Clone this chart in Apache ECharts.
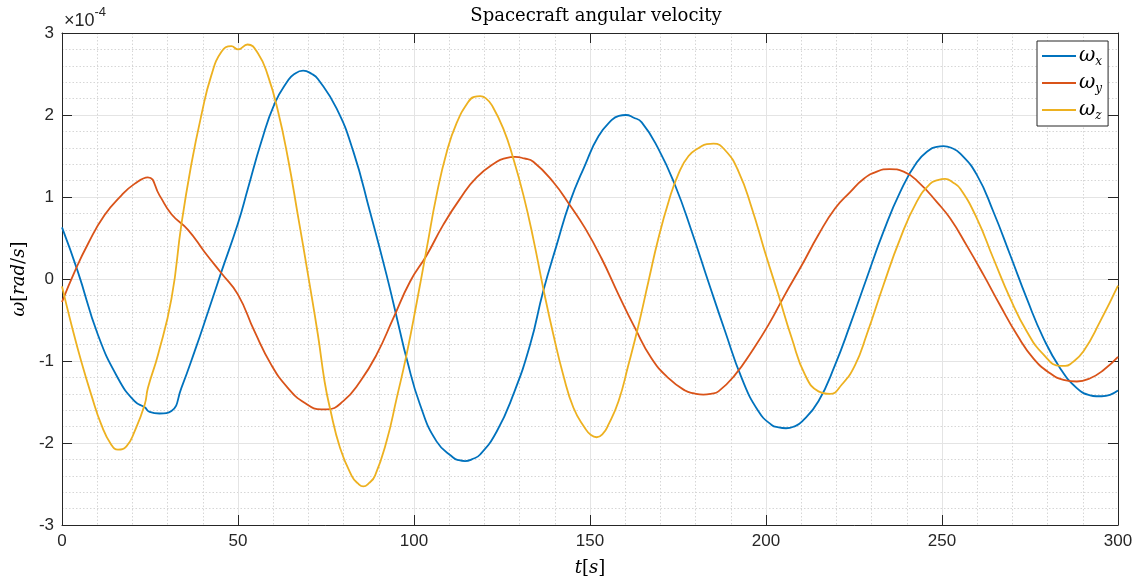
<!DOCTYPE html>
<html>
<head>
<meta charset="utf-8">
<script src="https://cdn.jsdelivr.net/npm/echarts@6/dist/echarts.min.js"></script>
<style>html,body{margin:0;padding:0;background:#fff}#c{width:1139px;height:585px}</style>
</head>
<body>
<div id="c"></div>
<script>
// values in units of 1e-4 rad/s
const tX = [0,4.5,10.2,15.9,20.6,23.5,24.9,27.7,31.1,33.9,37.7,41.5,45.3,50,52.8,56.6,60.4,64.2,66.0,68.5,71.0,72.7,78.0,82.8,87.5,92.2,95.6,97.9,101.7,106.4,111.2,112.8,114.5,116.4,118.8,123.5,128.2,133.0,136.7,140.5,144.3,148.6,152.4,156.2,158.2,160.2,162.3,164.7,169.4,174.2,178.9,183.6,188.4,193.1,197.8,201.6,203.6,205.7,207.9,210.2,214.9,219.6,223.9,228.6,233.4,238.1,242.8,246.6,248.5,250.4,252.6,255.2,259.9,264.6,269.4,274.1,278.8,283.6,288.3,292.1,293.8,295.4,300];
const wX = [0.63,0.09,-0.68,-1.21,-1.49,-1.565,-1.62,-1.64,-1.61,-1.33,-0.88,-0.40,0.09,0.68,1.10,1.67,2.14,2.42,2.50,2.54,2.50,2.44,2.08,1.55,0.82,0.05,-0.56,-0.97,-1.53,-1.98,-2.18,-2.21,-2.22,-2.20,-2.14,-1.86,-1.41,-0.80,-0.15,0.41,0.94,1.39,1.74,1.94,1.99,2.00,1.97,1.91,1.59,1.14,0.58,-0.03,-0.64,-1.21,-1.61,-1.78,-1.81,-1.82,-1.80,-1.74,-1.49,-1.05,-0.56,0.01,0.58,1.06,1.42,1.58,1.61,1.62,1.60,1.53,1.27,0.82,0.29,-0.24,-0.72,-1.09,-1.33,-1.42,-1.43,-1.43,-1.36];

const tY = [0,3.6,7.4,12.1,16.9,20.6,24.4,27.7,31.1,35.8,40.5,45.3,50,54.7,59.5,64.2,68.9,73.7,75.2,79.9,84.7,89.4,94.1,98.9,103.6,108.3,113.1,117.8,123.5,126.1,128.7,131.3,133.9,139.6,144.3,148.6,153.3,158.1,162.8,167.5,172.3,177.0,179.6,182.2,184.3,186.5,191.2,196.0,200.7,205.4,210.2,214.9,219.6,223.9,227.7,231.5,235.1,239.1,243.8,248.5,252.3,257.0,261.8,266.5,271.3,276.0,280.7,284.5,288.3,292.1,295.9,300];
const wY = [-0.28,0.09,0.43,0.78,1.02,1.16,1.24,1.02,0.79,0.60,0.33,0.07,-0.19,-0.64,-1.05,-1.33,-1.51,-1.59,-1.59,-1.49,-1.25,-0.92,-0.48,-0.03,0.29,0.66,0.98,1.24,1.43,1.475,1.49,1.47,1.43,1.18,0.90,0.62,0.25,-0.19,-0.60,-0.97,-1.21,-1.36,-1.395,-1.41,-1.40,-1.37,-1.17,-0.88,-0.56,-0.19,0.17,0.54,0.86,1.06,1.22,1.31,1.34,1.31,1.16,0.94,0.74,0.41,0.05,-0.32,-0.68,-0.97,-1.15,-1.23,-1.25,-1.21,-1.11,-0.95];

const tZ = [0,2.7,5.5,8.3,11.2,14.0,15.9,18.3,20.6,23.5,24.4,27.3,31.1,33.9,36.7,39.6,42.4,45.3,48.1,50,52.7,55.7,58.5,61.4,64.2,67.0,69.9,72.7,74.6,76.1,79.0,82.3,84.0,85.6,87.2,88.9,92.2,95.1,97.9,100.8,103.6,106.4,109.3,112.1,115.4,117.1,118.8,120.5,122.1,125.4,128.2,131.1,133.9,136.7,139.6,142.4,145.3,148.6,150.2,151.9,153.6,155.2,158.1,160.9,163.8,166.6,169.4,172.3,175.1,178.0,181.3,183.2,185.1,188.4,192.2,196.0,199.7,203.5,207.3,211.1,214.9,218.2,221.5,225.3,228.6,233.4,238.1,242.8,246.6,248.8,250.9,253.0,255.2,259.9,264.6,269.4,274.1,278.8,283.6,285.0,286.4,290.2,294.9,300];
const wZ = [-0.09,-0.56,-1.01,-1.41,-1.78,-2.02,-2.08,-2.04,-1.86,-1.53,-1.33,-0.92,-0.24,0.66,1.39,2.0,2.48,2.77,2.84,2.80,2.86,2.75,2.48,2.04,1.47,0.78,0.05,-0.68,-1.25,-1.57,-2.06,-2.40,-2.49,-2.53,-2.49,-2.40,-1.98,-1.45,-0.92,-0.28,0.37,1.02,1.55,1.90,2.16,2.22,2.23,2.20,2.12,1.83,1.47,1.02,0.49,-0.11,-0.68,-1.17,-1.57,-1.82,-1.90,-1.93,-1.89,-1.78,-1.49,-1.05,-0.56,-0.03,0.49,0.94,1.28,1.50,1.61,1.645,1.65,1.57,1.31,0.86,0.33,-0.19,-0.72,-1.17,-1.37,-1.40,-1.29,-1.05,-0.68,-0.07,0.49,0.94,1.16,1.205,1.22,1.18,1.10,0.74,0.25,-0.24,-0.64,-0.92,-1.06,-1.06,-1.04,-0.88,-0.52,-0.08];

const xTicks = [0,50,100,150,200,250,300];
const yTicks = [-3,-2,-1,0,1,2,3];
const seriesNames = ['ωx','ωy','ωz'];
const colors = ['#0072BD','#D95319','#EDB120'];

const zip = (t, v) => t.map((x, i) => [x, v[i]]);
const dark = '#262626';
const serif = 'DejaVu Serif';
const sans = 'Liberation Sans';

const chart = echarts.init(document.getElementById('c'), null, {renderer: 'canvas'});

const baseX = {
  type: 'value', min: xTicks[0], max: xTicks[xTicks.length-1], interval: 50,
  axisLine: {show: true, onZero: false, lineStyle: {color: dark, width: 1}},
  axisTick: {show: true, inside: true, length: 10, lineStyle: {color: dark}}
};
const baseY = {
  type: 'value', min: yTicks[0], max: yTicks[yTicks.length-1], interval: 1,
  axisLine: {show: true, onZero: false, lineStyle: {color: dark, width: 1}},
  axisTick: {show: true, inside: true, length: 10, lineStyle: {color: dark}}
};

chart.setOption({
  animation: false,
  color: colors,
  title: {
    text: 'Spacecraft angular velocity',
    left: 591, top: 2, textAlign: 'center',
    textStyle: {fontFamily: serif, fontWeight: 'normal', fontSize: 18, color: '#000'}
  },
  grid: {left: 62, right: 21, top: 33, bottom: 60, containLabel: false},
  xAxis: [
    Object.assign({}, baseX, {
      position: 'bottom',
      axisLabel: {show: true, fontFamily: sans, fontSize: 17, color: dark, margin: 8},
      splitLine: {show: true, lineStyle: {color: '#e4e4e4', width: 1, type: 'solid'}},
      minorTick: {show: false, splitNumber: 5},
      minorSplitLine: {show: true, lineStyle: {color: '#d6d6d6', width: 1, type: [1.5, 2]}},
      name: '{i|t}{n|[}{i|s}{n|]}',
      nameLocation: 'middle', nameGap: 34,
      nameTextStyle: {
        rich: {
          i: {fontFamily: serif, fontStyle: 'italic', fontSize: 18, color: '#000'},
          n: {fontFamily: serif, fontSize: 18, color: '#000'}
        }
      }
    }),
    Object.assign({}, baseX, {
      position: 'top',
      axisLabel: {show: false},
      splitLine: {show: false}
    })
  ],
  yAxis: [
    Object.assign({}, baseY, {
      position: 'left',
      axisLabel: {show: true, fontFamily: sans, fontSize: 17, color: dark, margin: 8},
      splitLine: {show: true, lineStyle: {color: '#e4e4e4', width: 1, type: 'solid'}},
      minorTick: {show: false, splitNumber: 5},
      minorSplitLine: {show: true, lineStyle: {color: '#d6d6d6', width: 1, type: [1.5, 2]}},
      name: '{i|ω}{n|[}{i|rad}{n|/}{i|s}{n|]}',
      nameLocation: 'middle', nameGap: 28, nameRotate: 90,
      nameTextStyle: {
        rich: {
          i: {fontFamily: serif, fontStyle: 'italic', fontSize: 18, color: '#000'},
          n: {fontFamily: serif, fontSize: 18, color: '#000'}
        }
      }
    }),
    Object.assign({}, baseY, {
      position: 'right',
      axisLabel: {show: false},
      splitLine: {show: false}
    })
  ],
  legend: {
    show: true, orient: 'vertical', left: 1037, top: 41,
    padding: [5, 6, 4, 5], itemGap: 5, itemWidth: 34, itemHeight: 2,
    icon: 'rect',
    backgroundColor: '#fff', borderColor: dark, borderWidth: 1,
    data: seriesNames,
    formatter: function (name) { return '{w|ω}{s|' + name.slice(1) + '}'; },
    textStyle: {
      padding: [0, 0, 0, -2],
      rich: {
        w: {fontFamily: serif, fontStyle: 'italic', fontSize: 20, color: '#000', lineHeight: 22, verticalAlign: 'middle'},
        s: {fontFamily: serif, fontStyle: 'italic', fontSize: 12, color: '#000', lineHeight: 24, verticalAlign: 'bottom'}
      }
    }
  },
  graphic: [{
    type: 'text', left: 64, top: 6, z: 10,
    style: {
      text: '{a|×10}{b|-4}',
      rich: {
        a: {fontFamily: sans, fontSize: 18, fill: dark, verticalAlign: 'bottom', lineHeight: 24},
        b: {fontFamily: sans, fontSize: 13, fill: dark, verticalAlign: 'top', lineHeight: 24}
      }
    }
  }],
  series: [
    {name: seriesNames[0], type: 'line', data: zip(tX, wX)},
    {name: seriesNames[1], type: 'line', data: zip(tY, wY)},
    {name: seriesNames[2], type: 'line', data: zip(tZ, wZ)}
  ].map((s, i) => Object.assign(s, {
    xAxisIndex: 0, yAxisIndex: 0, symbol: 'none', showSymbol: false, smooth: 0.5,
    lineStyle: {width: 1.8, color: colors[i]}, itemStyle: {color: colors[i]}, clip: true
  }))
});
</script>
</body>
</html>
